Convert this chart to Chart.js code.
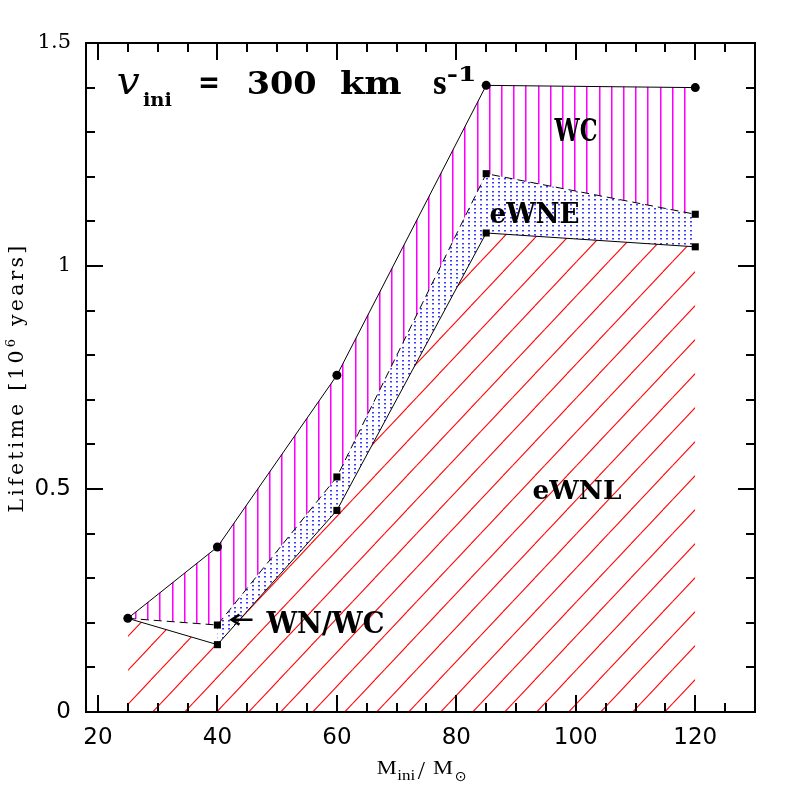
<!DOCTYPE html>
<html>
<head>
<meta charset="utf-8">
<script src="https://cdn.jsdelivr.net/npm/chart.js@4.4.1/dist/chart.umd.min.js"></script>
<style>
html, body { margin: 0; padding: 0; background: #fff; }
canvas { display: block; }
</style>
</head>
<body>
<canvas id="lifeChart" width="797" height="797"></canvas>
<script>
// initial masses (M_sun)
const masses = [25, 40, 60, 85, 120];
// lifetime boundaries, 10^6 yr
const wrEnd     = [0.21, 0.37, 0.755, 1.405, 1.40];   // end of WR phase (top, circles)
const wcStart   = [0.21, 0.195, 0.527, 1.207, 1.116]; // start of WC (dashed)
const ewneStart = [0.21, 0.151, 0.452, 1.074, 1.043]; // eWNL -> eWNE (solid, squares)

// axis ticks
const xTickVals = [20, 25, 30, 35, 40, 45, 50, 55, 60, 65, 70, 75, 80, 85, 90, 95, 100, 105, 110, 115, 120, 125];
const xMajor = [20, 40, 60, 80, 100, 120];
const yTickVals = [0, 0.1, 0.2, 0.3, 0.4, 0.5, 0.6, 0.7, 0.8, 0.9, 1, 1.1, 1.2, 1.3, 1.4, 1.5];
const yMajor = [0, 0.5, 1, 1.5];

const pts = (xs, ys) => xs.map((x, i) => ({ x, y: ys[i] }));

function makePattern(w, h, paint) {
  const c = document.createElement('canvas');
  c.width = w; c.height = h;
  const g = c.getContext('2d');
  paint(g, w, h);
  return g.createPattern(c, 'repeat');
}

// vertical magenta hatch (WC)
const magentaHatch = makePattern(61, 4, (g, w, h) => {
  for (let k = 0; k < 5; k++) {
    const x = Math.round(0.8 + 12.2 * k);
    g.fillStyle = '#ff00ff';
    g.fillRect(x, 0, 1, h);
    g.fillStyle = '#ff77ff';
    g.fillRect(x + 1, 0, 1, h);
  }
});

// diagonal red hatch (eWNL)
const redHatch = makePattern(32, 34, (g, w, h) => {
  g.strokeStyle = '#ff0000';
  g.lineWidth = 1.1;
  const c = 22.8;
  for (let k = -1; k <= 1; k++) {
    g.beginPath();
    g.moveTo(c - w + k * w, h);
    g.lineTo(c + k * w, 0);
    g.stroke();
  }
});

// blue dots (eWNE)
const blueDots = makePattern(6, 13, (g) => {
  g.fillStyle = 'rgb(60,60,255)';
  [0, 4, 9].forEach(y => g.fillRect(0, y, 2, 1));
  g.fillStyle = 'rgba(60,60,255,0.5)';
  [1, 5, 10].forEach(y => g.fillRect(0, y, 2, 1));
});

const sq = [0, 5, 5, 5, 5];

const datasets = [
  { // top: end of WR phase, WC area down to dashed line
    data: pts(masses, wrEnd),
    borderColor: '#000', borderWidth: 1,
    pointStyle: 'circle', pointRadius: 4.5, pointBackgroundColor: '#000', pointBorderWidth: 0,
    fill: 1, backgroundColor: magentaHatch
  },
  { // start of WC, dashed
    data: pts(masses, wcStart),
    borderColor: '#000', borderWidth: 1, borderDash: [8, 5],
    pointStyle: 'rect', pointRadius: sq, pointBackgroundColor: '#000', pointBorderWidth: 0,
    fill: false
  },
  { // eWNL area below solid line
    data: pts(masses, ewneStart),
    borderColor: '#000', borderWidth: 1,
    pointStyle: 'rect', pointRadius: sq, pointBackgroundColor: '#000', pointBorderWidth: 0,
    fill: 'origin', backgroundColor: redHatch
  },
  { // eWNE area (from 40 Msun)
    data: pts(masses.slice(1), wcStart.slice(1)),
    borderColor: 'transparent', borderWidth: 0, pointRadius: 0,
    fill: 4, backgroundColor: blueDots
  },
  {
    data: pts(masses.slice(1), ewneStart.slice(1)),
    borderColor: 'transparent', borderWidth: 0, pointRadius: 0,
    fill: false
  }
];

function fitText(ctx, str, x, y, font, width) {
  ctx.font = font;
  const w = ctx.measureText(str).width;
  const s = width ? width / w : 1;
  ctx.save();
  ctx.translate(x, y);
  ctx.scale(s, 1);
  ctx.fillText(str, 0, 0);
  ctx.restore();
}

const frameAndText = {
  id: 'frameAndText',
  afterDraw(chart) {
    const { ctx, chartArea: a, scales: { x, y } } = chart;
    ctx.save();
    // frame + inward ticks on four sides
    ctx.strokeStyle = '#000';
    ctx.lineWidth = 2;
    ctx.strokeRect(a.left, a.top, a.right - a.left, a.bottom - a.top);
    ctx.beginPath();
    x.ticks.forEach(t => {
      const px = Math.round(x.getPixelForValue(t.value));
      const len = xMajor.includes(t.value) ? 17 : 9;
      ctx.moveTo(px, a.bottom); ctx.lineTo(px, a.bottom - len);
      ctx.moveTo(px, a.top); ctx.lineTo(px, a.top + len);
    });
    y.ticks.forEach(t => {
      const py = Math.round(y.getPixelForValue(t.value));
      const len = yMajor.includes(t.value) ? 17 : 9;
      ctx.moveTo(a.left, py); ctx.lineTo(a.left + len, py);
      ctx.moveTo(a.right, py); ctx.lineTo(a.right - len, py);
    });
    ctx.stroke();

    ctx.fillStyle = '#000';
    ctx.textAlign = 'left';
    ctx.textBaseline = 'alphabetic';
    const serif = 'DejaVu Serif';
    const thin = 'Liberation Serif';

    // title: v_ini = 300 km s^-1
    const tx = x.getPixelForValue(23.13), ty = y.getPixelForValue(1.385);
    fitText(ctx, 'v', tx, ty, `italic 40px ${serif}`, 23);
    fitText(ctx, 'ini', tx + 26.3, ty + 12, `bold 19px ${serif}`, 29);
    fitText(ctx, '=', tx + 81.3, ty - 1, `bold 32px ${serif}`, 22);
    fitText(ctx, '300', tx + 130, ty, `bold 32px ${serif}`, 70);
    fitText(ctx, 'km', tx + 223.3, ty, `bold 32px ${serif}`, 61.7);
    fitText(ctx, 's', tx + 316.3, ty, `bold 32px ${serif}`, 13.7);
    fitText(ctx, '-1', tx + 330, ty - 13, `bold 21px ${serif}`, 30);

    // phase labels
    const lab = (str, mx, ly, size, width) =>
      fitText(ctx, str, x.getPixelForValue(mx), y.getPixelForValue(ly), `bold ${size}px ${serif}`, width);
    lab('WC', 96.43, 1.2795, 31, 43);
    lab('eWNE', 85.55, 1.097, 27, 90);
    lab('eWNL', 92.75, 0.478, 26, 89);
    lab('WN/WC', 48.2, 0.178, 29, 118);

    // arrow pointing at the WN/WC sliver
    const arX = x.getPixelForValue(42.36), arY = y.getPixelForValue(0.207);
    ctx.lineWidth = 2.5;
    ctx.beginPath();
    ctx.moveTo(arX + 1, arY); ctx.lineTo(arX + 21, arY);
    ctx.moveTo(arX + 8, arY - 5); ctx.lineTo(arX, arY); ctx.lineTo(arX + 8, arY + 5);
    ctx.stroke();

    // x axis title: M_ini / M_sun
    const ax = 376.7, ab = 774;
    fitText(ctx, 'M', ax, ab, `19.5px ${thin}`, 20);
    fitText(ctx, 'ini', ax + 20.5, ab + 6, `14px ${thin}`, 18);
    fitText(ctx, '/', ax + 41, ab + 5, `26px ${thin}`, null);
    fitText(ctx, 'M', ax + 56.3, ab, `19.5px ${thin}`, 20);
    fitText(ctx, '\u2299', ax + 78, ab + 7, `14px DejaVu Sans`, 12);

    // y axis title: Lifetime [10^6 years], spread with letter spacing
    ctx.save();
    ctx.translate(23, (a.top + a.bottom) / 2);
    ctx.rotate(-Math.PI / 2);
    const f1 = `20.5px ${serif}`, f2 = `13px ${serif}`;
    const p1 = 'Lifetime [10', p3 = ' years]';
    const nChars = p1.length + 1 + p3.length;
    ctx.font = f1;
    const w1n = ctx.measureText(p1).width, w3n = ctx.measureText(p3).width;
    ctx.font = f2;
    const w2n = ctx.measureText('6').width;
    const gap = Math.max(0, (270 - (w1n + w2n + w3n)) / nChars);
    ctx.letterSpacing = gap.toFixed(2) + 'px';
    let cx = -135;
    ctx.font = f1; ctx.fillText(p1, cx, 0); cx += w1n + gap * p1.length;
    ctx.font = f2; ctx.fillText('6', cx, -8); cx += w2n + gap;
    ctx.font = f1; ctx.fillText(p3, cx, 0);
    ctx.restore();

    ctx.restore();
  }
};

new Chart(document.getElementById('lifeChart'), {
  type: 'line',
  data: { datasets },
  options: {
    responsive: false,
    animation: false,
    events: [],
    layout: { padding: { top: 43, right: 42, left: 0, bottom: 0 } },
    plugins: {
      legend: { display: false },
      tooltip: { enabled: false },
      filler: { drawTime: 'beforeDatasetsDraw' }
    },
    scales: {
      x: {
        type: 'linear', min: 18, max: 130,
        afterBuildTicks: s => { s.ticks = xTickVals.map(v => ({ value: v })); },
        afterFit: s => { s.height = 85; },
        grid: { display: false, drawTicks: false },
        border: { display: false },
        ticks: {
          autoSkip: false, maxRotation: 0, padding: 12, color: '#000',
          font: { family: 'DejaVu Sans', size: 23 },
          callback: v => xMajor.includes(v) ? String(v) : ''
        }
      },
      y: {
        type: 'linear', min: 0, max: 1.5,
        afterBuildTicks: s => { s.ticks = yTickVals.map(v => ({ value: v })); },
        afterFit: s => { s.width = 86; },
        grid: { display: false, drawTicks: false },
        border: { display: false },
        ticks: {
          autoSkip: false, padding: 15, color: '#000',
          font: c => (c.tick && c.tick.value >= 1)
            ? { family: 'DejaVu Serif', size: 21 }
            : { family: 'DejaVu Sans', size: 23 },
          callback: v => yMajor.includes(v) ? String(v) : ''
        }
      }
    }
  },
  plugins: [frameAndText]
});
</script>
</body>
</html>
